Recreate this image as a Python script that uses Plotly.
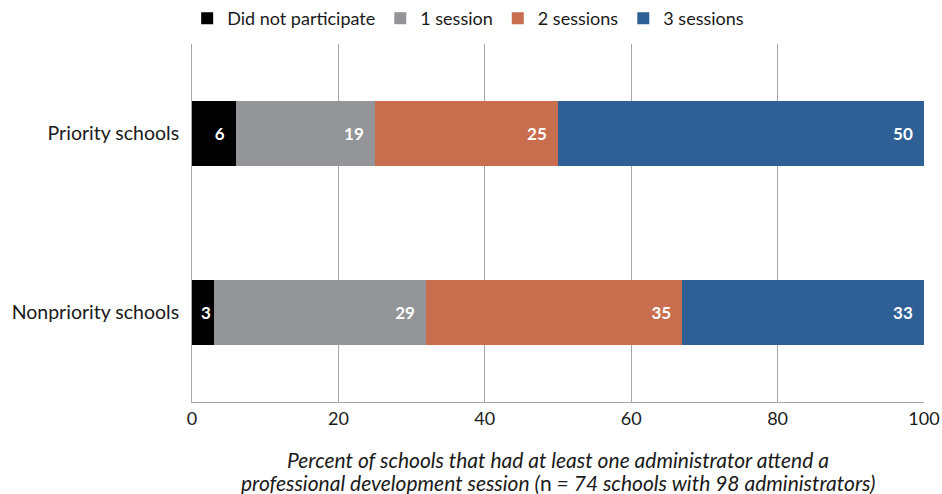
import plotly.graph_objects as go

categories = ["Nonpriority schools", "Priority schools"]
series_names = ["Did not participate", "1 session", "2 sessions", "3 sessions"]
did_not = [3, 6]
one_session = [29, 19]
two_sessions = [35, 25]
three_sessions = [33, 50]
colors = ["#000000", "#939598", "#C86D4E", "#2E6096"]
x_ticks = [0, 20, 40, 60, 80, 100]
title_lines = [
    "<i>Percent of schools that had at least one administrator attend a</i>",
    "<i>professional development session (</i>n<i> = 74 schools with 98 administrators)</i>",
]

FONT = "Lato, 'Open Sans', sans-serif"
PAD = "\u00a0\u00a0"

fig = go.Figure()
for name, vals, col in zip(series_names, [did_not, one_session, two_sessions, three_sessions], colors):
    fig.add_trace(go.Bar(
        y=categories, x=vals, name=name, orientation="h",
        marker=dict(color=col, line=dict(width=0)),
        texttemplate=["%{x}" + (PAD if v >= 5 else "") for v in vals],
        textposition="inside", insidetextanchor="end",
        textfont=dict(color="white", size=17, family=FONT, weight="bold"),
        textangle=0, cliponaxis=False,
    ))

fig.update_layout(
    barmode="stack", bargap=0.64,
    width=942, height=494,
    margin=dict(l=192, r=18, t=44, b=92),
    plot_bgcolor="white", paper_bgcolor="white",
    font=dict(family=FONT, size=19, color="#1a1a1a"),
    uniformtext=dict(mode="show", minsize=8),
    legend=dict(orientation="h", xref="container", yref="container", x=0.497, xanchor="center",
                y=1.0, yanchor="top", font=dict(size=18), traceorder="normal",
                itemwidth=30, tracegroupgap=0),
    xaxis=dict(range=[0, 100], tickvals=x_ticks, showgrid=True, gridcolor="#a6a6a6", gridwidth=1,
               zeroline=False, showline=True, linecolor="#a6a6a6", linewidth=1, mirror=False,
               tickfont=dict(size=18), ticks="", automargin=False),
    yaxis=dict(showgrid=False, zeroline=False, showline=True, linecolor="#a6a6a6", linewidth=1,
               tickfont=dict(size=19.5), ticklabelstandoff=8, ticks="", automargin=False),
)

for line, ypos in zip(title_lines, [-0.162, -0.2235]):
    fig.add_annotation(
        xref="paper", yref="paper", x=0.5, y=ypos, xanchor="center", yanchor="middle", showarrow=False,
        text=line, font=dict(size=21, family=FONT, color="#1a1a1a"), align="center",
    )

fig.write_html("out.html")
